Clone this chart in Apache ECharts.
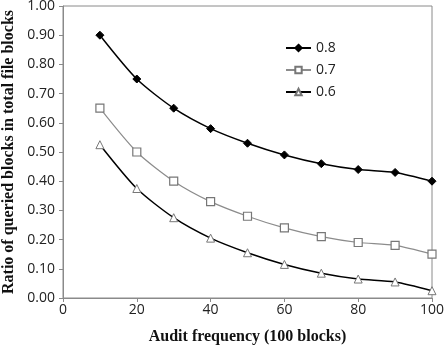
<!DOCTYPE html>
<html>
<head>
<meta charset="utf-8">
<script src="https://cdn.jsdelivr.net/npm/echarts@6/dist/echarts.min.js"></script>
<style>
  html, body { margin: 0; padding: 0; background: #fff; }
  #chart { width: 444px; height: 345px; }
</style>
</head>
<body>
<div id="chart"></div>
<script>
// Audit frequency (x, in units of 100 blocks)
const frequencies = [10, 20, 30, 40, 50, 60, 70, 80, 90, 100];
// Ratio of queried blocks for each corruption level
const ratio08 = [0.90, 0.75, 0.65, 0.58, 0.53, 0.49, 0.46, 0.44, 0.43, 0.40];
const ratio07 = [0.65, 0.50, 0.40, 0.33, 0.28, 0.24, 0.21, 0.19, 0.18, 0.15];
const ratio06 = [0.525, 0.375, 0.275, 0.205, 0.155, 0.115, 0.085, 0.065, 0.055, 0.025];
const seriesNames = ['0.8', '0.7', '0.6'];

const pairs = ys => frequencies.map((x, i) => [x, ys[i]]);
const tickFont = { fontFamily: 'Open Sans, Liberation Sans, sans-serif', fontSize: 14, color: '#222' };
const titleFont = { fontFamily: 'Liberation Serif, serif', fontWeight: 'bold', fontSize: 16, color: '#111' };

const chart = echarts.init(document.getElementById('chart'));
chart.setOption({
  animation: false,
  grid: {
    left: 63, right: 12, top: 6, bottom: 47,
    outerBoundsMode: 'none', containLabel: false,
    show: true, borderColor: '#8a8a8a', borderWidth: 1
  },
  legend: {
    left: 280, top: 36, orient: 'vertical', itemGap: 8, itemWidth: 25, itemHeight: 8,
    textStyle: Object.assign({}, tickFont),
    data: seriesNames
  },
  xAxis: {
    type: 'value', min: 0, max: 100, interval: 20,
    name: 'Audit frequency (100 blocks)', nameLocation: 'middle', nameGap: 31,
    nameTextStyle: titleFont,
    axisLine: { lineStyle: { color: '#8a8a8a' } },
    axisTick: { show: true, length: 4, lineStyle: { color: '#8a8a8a' } },
    axisLabel: Object.assign({ margin: 5, formatter: v => String(v) }, tickFont),
    splitLine: { show: false }
  },
  yAxis: {
    type: 'value', min: 0, max: 1, interval: 0.1,
    name: 'Ratio of queried blocks in total file blocks', nameLocation: 'middle', nameGap: 43,
    nameTextStyle: titleFont,
    axisLine: { show: true, lineStyle: { color: '#8a8a8a' } },
    axisTick: { show: true, length: 4, lineStyle: { color: '#8a8a8a' } },
    axisLabel: Object.assign({ margin: 8, formatter: v => v.toFixed(2) }, tickFont),
    splitLine: { show: false }
  },
  series: [
    {
      name: seriesNames[0], type: 'line', smooth: 0.25, data: pairs(ratio08),
      symbol: 'diamond', symbolSize: 8,
      lineStyle: { color: '#000', width: 1.5 },
      itemStyle: { color: '#000', borderColor: '#000', borderWidth: 1 }
    },
    {
      name: seriesNames[1], type: 'line', smooth: 0.25, data: pairs(ratio07),
      symbol: 'rect', symbolSize: 8,
      lineStyle: { color: '#8c8c8c', width: 1.2 },
      itemStyle: { color: '#fff', borderColor: '#777', borderWidth: 1.2 }
    },
    {
      name: seriesNames[2], type: 'line', smooth: 0.25, data: pairs(ratio06),
      symbol: 'triangle', symbolSize: 8,
      lineStyle: { color: '#000', width: 1.5 },
      itemStyle: { color: '#fff', borderColor: '#777', borderWidth: 1 }
    }
  ]
});
</script>
</body>
</html>
